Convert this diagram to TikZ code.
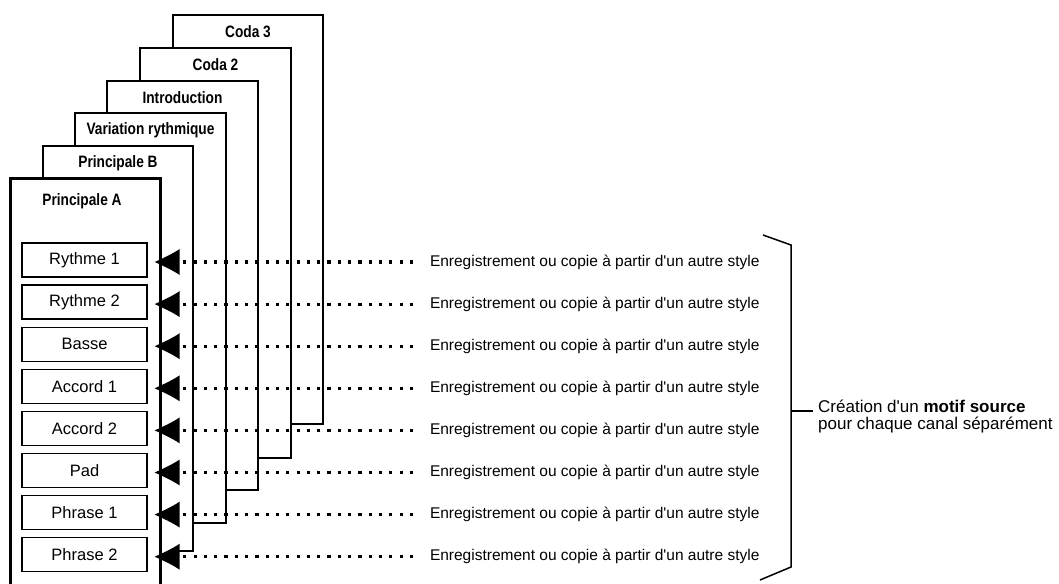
\documentclass[tikz,border=0pt]{standalone}
\usepackage{fontspec}
\setmainfont{Liberation Sans}
\newfontfamily\condfont[FakeStretch=0.83]{Liberation Sans}
\usetikzlibrary{arrows.meta}
\pgfdeclarearrow{
  name = Barb,
  setup code = {
    \pgfarrowssettipend{0pt}
    \pgfarrowssetlineend{-18pt}
    \pgfarrowssetbackend{-25pt}
    \pgfarrowshullpoint{0pt}{0pt}
    \pgfarrowsupperhullpoint{-25pt}{13pt}
  },
  drawing code = {
    \pgfpathmoveto{\pgfqpoint{0pt}{0pt}}
    \pgfpathcurveto{\pgfqpoint{-8pt}{3.6pt}}{\pgfqpoint{-18pt}{8.2pt}}{\pgfqpoint{-25pt}{13pt}}
    \pgfpathlineto{\pgfqpoint{-25pt}{-13pt}}
    \pgfpathcurveto{\pgfqpoint{-18pt}{-8.2pt}}{\pgfqpoint{-8pt}{-3.6pt}}{\pgfqpoint{0pt}{0pt}}
    \pgfpathclose
    \pgfusepathqfill
  }
}
\tikzset{
  panel/.style={line width=2.6pt, line join=miter, line cap=rect},
  ptitle/.style={font=\condfont\bfseries\fontsize{16.5}{18}\selectfont, inner sep=0pt},
  chan/.style={draw, line width=1.4pt, minimum width=125pt, minimum height=34pt, inner sep=0pt,
    font=\fontsize{16.5}{18}\selectfont},
  rowtext/.style={anchor=west, inner xsep=0pt, outer xsep=17pt, inner ysep=0pt,
    font=\fontsize{15.5}{17}\selectfont},
  dotarrow/.style={line width=3.2pt, dash pattern=on 3.2pt off 7.1pt, -{Barb}, shorten >=7pt},
  brace/.style={line width=1.5pt, line join=miter}
}
\begin{document}
\begin{tikzpicture}[x=1pt,y=-1pt]
\useasboundingbox (0,0) rectangle (1059,583);
\clip (0,0) rectangle (1059,583);
% back panels, back to front
\fill[white] (173,15) rectangle (323,424);
\draw[panel] (173,424) -- (173,15) -- (323,15) -- (323,424) -- (291,424);
\node[ptitle] (p6) at (248,32) {Coda 3};
\fill[white] (140,48) rectangle (291,458);
\draw[panel] (140,458) -- (140,48) -- (291,48) -- (291,458) -- (259,458);
\node[ptitle] (p5) at (215.5,65) {Coda 2};
\fill[white] (107,81) rectangle (258,490);
\draw[panel] (107,490) -- (107,81) -- (258,81) -- (258,490) -- (226,490);
\node[ptitle] (p4) at (182.5,98) {Introduction};
\fill[white] (75,113) rectangle (226,523);
\draw[panel] (75,523) -- (75,113) -- (226,113) -- (226,523) -- (193,523);
\node[ptitle] (p3) at (150.5,130) {Variation rythmique};
\fill[white] (43,146) rectangle (193,551);
\draw[panel] (43,551) -- (43,146) -- (193,146) -- (193,551) -- (180,551);
\node[ptitle] (p2) at (118,163) {Principale B};
\fill[white] (10,178) rectangle (160,600);
\draw[panel, line width=3pt] (10,600) -- (10,178) -- (160,178) -- (160,600);
\node[ptitle] (p1) at (82,201) {Principale A};
% channels
\foreach \i/\lab in {0/Rythme 1,1/Rythme 2,2/Basse,3/Accord 1,4/Accord 2,5/Pad,6/Phrase 1,7/Phrase 2}{
  \node[chan] (r\i) at (84.5,260+42.1*\i) {\lab};
  \node[rowtext] (t\i) at (413,262+42.1*\i) {Enregistrement ou copie à partir d\textquotesingle un autre style};
  \draw[dotarrow] (t\i.west) -- (t\i.west -| r\i.east);
}
% brace
\coordinate (bm) at (791,411);
\draw[brace] (763,235) -- (791,245) -- (791,567) -- (760,580);
\node[anchor=west, align=left, inner sep=0pt, font=\fontsize{17}{17}\selectfont] (lab) at (818,416)
  {Création d\textquotesingle un \textbf{motif source}\\pour chaque canal séparément};
\draw[brace] (bm) -- ([xshift=-5pt]bm -| lab.west);
\end{tikzpicture}
\end{document}
